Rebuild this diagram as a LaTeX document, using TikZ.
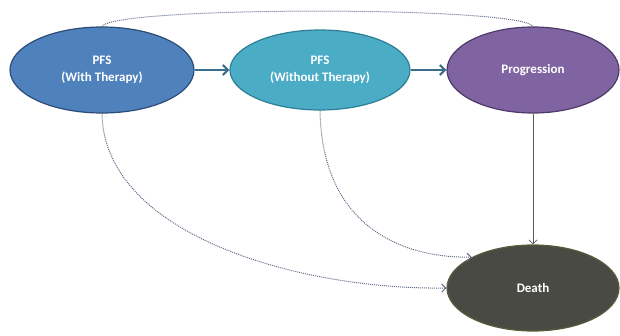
\documentclass[tikz,border=0pt]{standalone}
\usepackage{fontspec}
\setmainfont{Carlito}
\usetikzlibrary{shapes.geometric,arrows.meta}
\definecolor{c1fill}{HTML}{4F81BD}
\definecolor{c1draw}{HTML}{2C4D75}
\definecolor{c2fill}{HTML}{4BACC6}
\definecolor{c2draw}{HTML}{2E7F95}
\definecolor{c3fill}{HTML}{8064A2}
\definecolor{c3draw}{HTML}{4E3A68}
\definecolor{c4fill}{HTML}{4A4A45}
\definecolor{c4draw}{HTML}{5A5A3C}
\definecolor{thickarr}{HTML}{3B6E8C}
\definecolor{dotcol}{HTML}{5E6C86}
\tikzset{
  state/.style={ellipse, line width=1.2pt, text=white, font=\fontsize{13}{17}\selectfont\bfseries, align=center, inner sep=0pt},
  mainarr/.style={-{Straight Barb[length=5pt,width=10pt]}, line width=2.2pt, color=thickarr},
  dotarr/.style={densely dotted, line width=1pt, color=dotcol},
  solidarr/.style={-{Straight Barb[length=4pt,width=8pt]}, line width=0.8pt, color=black!65}
}
\begin{document}
\begin{tikzpicture}[x=1pt,y=-1pt]
\useasboundingbox (0,0) rectangle (620,336);
\node[state, fill=c1fill, draw=c1draw, minimum width=184pt, minimum height=86pt] (pfs1) at (102,70) {PFS\\(With Therapy)};
\node[state, fill=c2fill, draw=c2draw, minimum width=180pt, minimum height=80pt] (pfs2) at (320,70) {PFS\\(Without Therapy)};
\node[state, fill=c3fill, draw=c3draw, minimum width=172pt, minimum height=86pt] (prog) at (533,70) {Progression};
\node[state, fill=c4fill, draw=c4draw, minimum width=172pt, minimum height=86pt] (death) at (533,288) {Death};
\draw[mainarr] (pfs1) -- (pfs2);
\draw[mainarr] (pfs2) -- (prog);
\draw[solidarr] (prog.south) -- (death.north);
\draw[dotarr] (pfs1.north) .. controls (115,6) and (520,6) .. (prog.north);
\draw[dotarr, -{Straight Barb[length=4pt,width=8pt]}] (pfs1.south) .. controls (104,235) and (300,290) .. (death.west);
\draw[dotarr, -{Straight Barb[length=4pt,width=8pt]}] (pfs2.south) .. controls (322,225) and (400,258) .. (death.north west);
\end{tikzpicture}
\end{document}
